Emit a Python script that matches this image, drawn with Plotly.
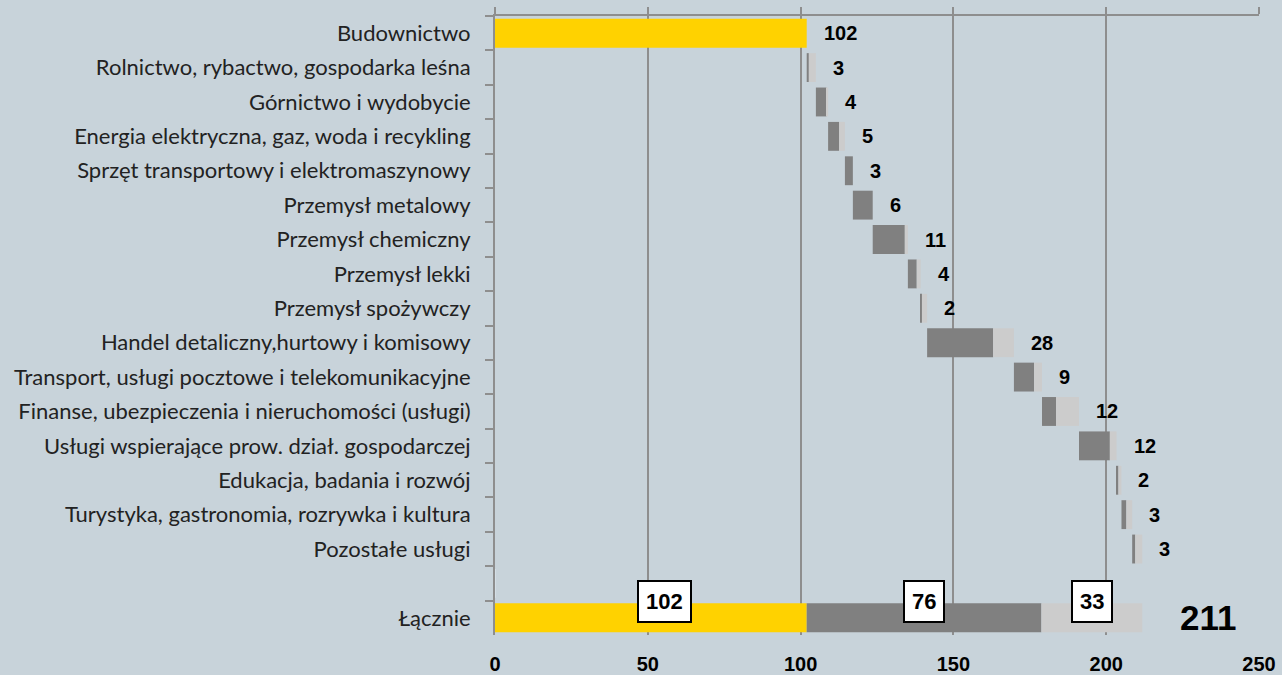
import numpy as np
import plotly.graph_objects as go

# ---------------- data ----------------
categories = [
    "Budownictwo",
    "Rolnictwo, rybactwo, gospodarka leśna",
    "Górnictwo i wydobycie",
    "Energia elektryczna, gaz, woda i recykling",
    "Sprzęt transportowy i elektromaszynowy",
    "Przemysł metalowy",
    "Przemysł chemiczny",
    "Przemysł lekki",
    "Przemysł spożywczy",
    "Handel detaliczny,hurtowy i komisowy",
    "Transport, usługi pocztowe i telekomunikacyjne",
    "Finanse, ubezpieczenia i nieruchomości (usługi)",
    "Usługi wspierające prow. dział. gospodarczej",
    "Edukacja, badania i rozwój",
    "Turystyka, gastronomia, rozrywka i kultura",
    "Pozostałe usługi",
]
gap_label = " "
total_label = "Łącznie"

construction_value = 102
# other sectors: dark (first) and light (second) parts
dark_values = [0.7, 3.5, 3.6, 2.6, 6.5, 10.5, 2.9, 0.4, 21.6, 6.6, 4.6, 10.1, 0.6, 1.6, 1.0]
light_values = [2.3, 0.5, 1.9, 0.0, 0.0, 1.0, 1.3, 1.7, 6.8, 2.6, 7.5, 2.2, 1.0, 1.9, 2.3]
row_labels = ["3", "4", "5", "3", "6", "11", "4", "2", "28", "9", "12", "12", "2", "3", "3"]
total_labels = ["102", "76", "33"]
grand_total_label = "211"
x_ticks = [0, 50, 100, 150, 200, 250]

# ---------------- derived ----------------
dark = np.array(dark_values)
light = np.array(light_values)
row_tot = dark + light
starts = construction_value + np.concatenate([[0], np.cumsum(row_tot)[:-1]])
ends = starts + row_tot
dark_sum = dark.sum()
light_sum = light.sum()

ycats = categories + [gap_label, total_label]
other = categories[1:]

YELLOW = "#FFD200"
DARK = "#808080"
LIGHT = "#CCCCCC"
BG = "#C8D3DA"
GRID = "#8E8E8E"
NUMFONT = "Liberation Sans, Arial, sans-serif"

fig = go.Figure()

# yellow (Budownictwo and total)
fig.add_trace(go.Bar(
    y=[categories[0], total_label], x=[construction_value, construction_value], base=[0, 0],
    orientation="h", marker=dict(color=YELLOW, line=dict(width=0)), hoverinfo="skip",
))
# dark parts
fig.add_trace(go.Bar(
    y=other + [total_label], x=list(dark) + [dark_sum],
    base=list(starts) + [construction_value],
    orientation="h", marker=dict(color=DARK, line=dict(width=0)), hoverinfo="skip",
))
# light parts
fig.add_trace(go.Bar(
    y=other + [total_label], x=list(light) + [light_sum],
    base=list(starts + dark) + [construction_value + dark_sum],
    orientation="h", marker=dict(color=LIGHT, line=dict(width=0)), hoverinfo="skip",
))
# gap row placeholder
fig.add_trace(go.Bar(y=[gap_label], x=[0], base=[0], orientation="h",
                     marker=dict(color="rgba(0,0,0,0)"), hoverinfo="skip"))
# dummy trace for top axis
fig.add_trace(go.Scatter(x=[0], y=[categories[0]], xaxis="x2", mode="markers",
                         marker=dict(opacity=0), hoverinfo="skip"))

annotations = []
# value labels
annotations.append(dict(x=construction_value, y=categories[0], text=str(construction_value),
                        xanchor="left", xshift=15, showarrow=False,
                        font=dict(family=NUMFONT, size=20, color="black", weight="bold")))
for cat, e, lab in zip(other, ends, row_labels):
    annotations.append(dict(x=e, y=cat, text=lab, xanchor="left", xshift=15, showarrow=False,
                            font=dict(family=NUMFONT, size=20, color="black", weight="bold")))

# boxed labels on total row
seg_centers = [construction_value / 2,
               construction_value + dark_sum / 2,
               construction_value + dark_sum + light_sum / 2]
seg_shift = [14, 0, 0]
for c, lab, sh in zip(seg_centers, total_labels, seg_shift):
    annotations.append(dict(x=c, y=total_label, text=lab, showarrow=False, xshift=sh, yshift=16,
                            bgcolor="white", bordercolor="black", borderwidth=2, borderpad=7,
                            font=dict(family=NUMFONT, size=22, color="black", weight="bold")))
annotations.append(dict(x=construction_value + dark_sum + light_sum, y=total_label,
                        text=grand_total_label, xanchor="left", xshift=36, showarrow=False,
                        font=dict(family=NUMFONT, size=35, color="black", weight="bold")))

fig.update_layout(
    width=1282, height=675,
    margin=dict(l=495, r=23, t=16, b=40),
    paper_bgcolor=BG, plot_bgcolor=BG,
    barmode="overlay", bargap=0.16,
    showlegend=False,
    annotations=annotations,
    xaxis=dict(range=[0, 250], tickvals=x_ticks, showgrid=True, gridcolor=GRID, gridwidth=2,
               zeroline=False, showline=False, ticks="", automargin=False,
               tickfont=dict(family=NUMFONT, size=20, color="black", weight="bold"),
               ticklabelstandoff=15, fixedrange=True),
    xaxis2=dict(range=[0, 250], overlaying="x", side="top", matches="x", tickvals=x_ticks,
                showgrid=False, zeroline=False, showline=True, linecolor=GRID, linewidth=2,
                ticks="outside", ticklen=7, tickwidth=2, tickcolor=GRID, automargin=False,
                showticklabels=False),
    yaxis=dict(type="category", categoryorder="array", categoryarray=ycats,
               range=[len(ycats) - 0.5, -0.5], autorange=False,
               showgrid=False, zeroline=False, automargin=False,
               showline=True, linecolor=GRID, linewidth=2,
               ticks="outside", tickson="boundaries", ticklen=8, tickwidth=2, tickcolor=GRID,
               tickfont=dict(family="Lato, Open Sans, sans-serif", size=22, color="#222222"),
               ticklabelstandoff=18),
)

fig.write_html(
    "out.html",
    config={"displayModeBar": False},
    post_script="document.body.style.margin='0';document.body.style.padding='0';"
                "document.documentElement.style.overflow='hidden';",
)
